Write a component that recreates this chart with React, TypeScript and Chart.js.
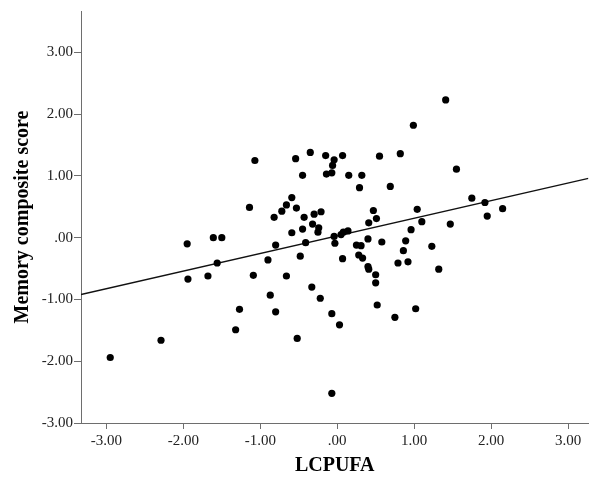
import { useEffect, useRef } from 'react';
import { Chart, registerables } from 'chart.js';

Chart.register(...registerables);

// LCPUFA (x) values of each participant
const lcpufa = [
  -2.95, -2.29, -1.95, -1.94, -1.61, -1.50, -1.56, -1.68, -1.32, -1.27,
  -1.09, -0.90, -0.87, -0.80, -0.80, -0.66, -0.52, -0.59, -1.07, -1.14,
  -0.82, -0.72, -0.66, -0.59, -0.54, -0.53, -0.35, -0.15, -0.04, -0.06,
  -0.14, -0.07, -0.45, -0.43, -0.30, -0.21, -0.32, -0.24, -0.25, -0.45,
  -0.41, -0.04, -0.03, 0.07, 0.55, 0.82, 0.15, 0.32, 0.29, 0.69,
  0.47, 0.51, 0.41, 1.04, 1.10, 0.96, 0.14, 0.08, 0.05, 0.40,
  0.58, 0.89, 0.25, 0.31, 1.23, 0.86, -0.48, -0.33, -0.22, -0.07,
  0.03, 0.07, 0.28, 0.33, 0.79, 0.92, 1.32, 0.40, 0.41, 0.50,
  0.50, 0.52, 1.02, 0.75, -0.07, 1.41, 0.99, 1.55, 1.75, 1.92,
  1.95, 2.15, 1.47,
];

// Memory composite score (y) values, same order
const memoryScore = [
  -1.94, -1.66, -0.10, -0.67, 0.00, 0.00, -0.41, -0.62, -1.49, -1.16,
  -0.61, -0.36, -0.93, -0.12, -1.20, -0.62, -1.63, 0.08, 1.25, 0.49,
  0.33, 0.43, 0.53, 0.65, 1.28, 0.48, 1.38, 1.33, 1.26, 1.17,
  1.03, 1.05, 1.01, 0.33, 0.38, 0.42, 0.22, 0.16, 0.09, 0.14,
  -0.08, 0.02, -0.09, 1.33, 1.32, 1.36, 1.01, 1.01, 0.81, 0.83,
  0.44, 0.31, 0.24, 0.46, 0.26, 0.13, 0.11, 0.09, 0.05, -0.02,
  -0.07, -0.05, -0.12, -0.13, -0.14, -0.21, -0.30, -0.80, -0.98, -1.23,
  -1.41, -0.34, -0.28, -0.33, -0.41, -0.39, -0.51, -0.47, -0.51, -0.60,
  -0.73, -1.09, -1.15, -1.29, -2.52, 2.23, 1.82, 1.11, 0.64, 0.57,
  0.35, 0.47, 0.22,
];

// Linear fit line (intercept, slope)
const fitIntercept = 0.029;
const fitSlope = 0.285;

// Axis ranges and tick values
const xMin = -3.33;
const xMax = 3.265;
const yMin = -3.0;
const yMax = 3.67;
const xTickValues = [-3, -2, -1, 0, 1, 2, 3];
const yTickValues = [-3, -2, -1, 0, 1, 2, 3];

const xTitle = 'LCPUFA';
const yTitle = 'Memory composite score';

const fmt = (v: number) => (Math.abs(v) < 1e-9 ? '.00' : v.toFixed(2));

const FONT = '"Liberation Serif", "Times New Roman", serif';
const AXIS_COLOR = '#6e6e6e';

export default function App() {
  const ref = useRef<HTMLCanvasElement>(null);

  useEffect(() => {
    document.body.style.margin = '0';
    const points = lcpufa.map((x, i) => ({ x, y: memoryScore[i] }));
    const linePts = [xMin, xMax].map((x) => ({ x, y: fitIntercept + fitSlope * x }));

    const chart = new Chart(ref.current!, {
      type: 'scatter',
      data: {
        datasets: [
          {
            type: 'scatter',
            data: points,
            pointRadius: 3.6,
            pointHoverRadius: 3.6,
            backgroundColor: '#000',
            borderWidth: 0,
          },
          {
            type: 'line',
            data: linePts,
            borderColor: '#111',
            borderWidth: 1.3,
            pointRadius: 0,
            fill: false,
            tension: 0,
          } as any,
        ],
      },
      options: {
        responsive: false,
        animation: false,
        devicePixelRatio: 1,
        layout: { padding: { top: 11, right: 1, left: 0, bottom: 0 } },
        plugins: { legend: { display: false }, tooltip: { enabled: false } },
        scales: {
          x: {
            type: 'linear',
            min: xMin,
            max: xMax,
            afterFit: (s: any) => {
              s.height = 54;
            },
            afterBuildTicks: (s: any) => {
              s.ticks = xTickValues.map((v) => ({ value: v }));
            },
            ticks: {
              callback: (v: any) => fmt(Number(v)),
              font: { family: FONT, size: 15 },
              color: '#222',
              padding: 3,
              maxRotation: 0,
              autoSkip: false,
            },
            grid: {
              drawOnChartArea: false,
              drawTicks: true,
              tickLength: 6,
              color: AXIS_COLOR,
            },
            border: { display: true, color: AXIS_COLOR, width: 1 },
            title: {
              display: true,
              text: xTitle,
              font: { family: FONT, size: 20, weight: 'bold' },
              color: '#000',
              padding: { top: 0, bottom: -1 },
            },
          },
          y: {
            type: 'linear',
            min: yMin,
            max: yMax,
            afterFit: (s: any) => {
              s.width = 81;
            },
            afterBuildTicks: (s: any) => {
              s.ticks = yTickValues.map((v) => ({ value: v }));
            },
            ticks: {
              callback: (v: any) => fmt(Number(v)),
              font: { family: FONT, size: 15 },
              color: '#222',
              padding: 1,
              autoSkip: false,
            },
            grid: {
              drawOnChartArea: false,
              drawTicks: true,
              tickLength: 7,
              color: AXIS_COLOR,
            },
            border: { display: true, color: AXIS_COLOR, width: 1 },
            title: {
              display: true,
              text: yTitle,
              font: { family: FONT, size: 20, weight: 'bold' },
              color: '#000',
              padding: { top: 11, bottom: 0 },
            },
          },
        },
      },
    } as any);

    return () => chart.destroy();
  }, []);

  return <canvas ref={ref} width={592} height={477} style={{ display: 'block' }} />;
}
